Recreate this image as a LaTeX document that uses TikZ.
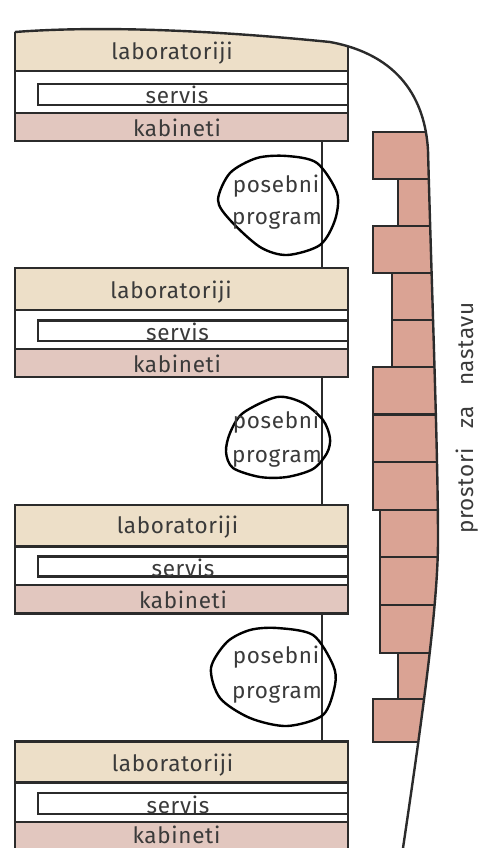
\documentclass[tikz,border=0pt]{standalone}
\usepackage{fontspec}
\setmainfont{Fira Sans}[LetterSpace=3, WordSpace=3]
\usetikzlibrary{calc}
\definecolor{labfill}{HTML}{EDDFC8}
\definecolor{kabfill}{HTML}{E2C7BF}
\definecolor{brickfill}{HTML}{DAA394}
\definecolor{ink}{HTML}{2B2B2B}
\definecolor{txt}{HTML}{3A3A3A}
\def\outerline{(15,32) .. controls (120,24) and (250,34) .. (330,42) .. controls (400,55) and (425,100) .. (428,150) .. controls (432,300) and (438,450) .. (438,540) .. controls (438,600) and (425,700) .. (403,848)}
\tikzset{
	wall/.style={draw=ink, line width=2.4pt},
	roomtxt/.style={text=txt, font=\fontsize{22.5}{26}\selectfont, anchor=base, inner sep=0pt},
	blob/.style={draw=black, line width=2.4pt}
}

\begin{document}
\begin{tikzpicture}[x=1pt,y=-1pt]
				\useasboundingbox (0,0) rectangle (483,848);
				
				\begin{scope}
				\clip (0,32) -- \outerline -- (403,860) -- (0,860) -- cycle;
				
				% blok 1
				\draw[wall, fill=labfill] (15,20) rectangle (348,71);
				\draw[wall] (15,71) rectangle (348,113);
				\draw[wall, fill=white] (38,84) rectangle (348,105);
				\draw[wall, fill=kabfill] (15,113) rectangle (348,141);
				
				% blok 2
				\draw[wall, fill=labfill] (15,268) rectangle (348,310);
				\draw[wall] (15,310) rectangle (348,349);
				\draw[wall, fill=white] (38,320.5) rectangle (348,341);
				\draw[wall, fill=kabfill] (15,349) rectangle (348,377);
				
				% blok 3
				\draw[wall, fill=labfill] (15,505) rectangle (348,546.5);
				\draw[wall] (15,546.5) rectangle (348,585);
				\draw[wall, fill=white] (38,556.5) rectangle (348,576.5);
				\draw[wall, fill=kabfill] (15,585) rectangle (348,613.5);
				
				% blok 4
				\draw[wall, fill=labfill] (15,741.5) rectangle (348,782.5);
				\draw[wall] (15,782.5) rectangle (348,822);
				\draw[wall, fill=white] (38,793) rectangle (348,814);
				\draw[wall, fill=kabfill] (15,822) rectangle (348,852);
				
				% prostori za nastavu
				\draw[wall, fill=brickfill] (373,132) rectangle (470,179);
				\draw[wall, fill=brickfill] (398,179) rectangle (470,226);
				\draw[wall, fill=brickfill] (373,226) rectangle (470,273);
				\draw[wall, fill=brickfill] (392,273) rectangle (470,320);
				\draw[wall, fill=brickfill] (392,320) rectangle (470,367);
				\draw[wall, fill=brickfill] (373,367) rectangle (470,414.5);
				\draw[wall, fill=brickfill] (373,414.5) rectangle (470,462);
				\draw[wall, fill=brickfill] (373,462) rectangle (470,510);
				\draw[wall, fill=brickfill] (380,510) rectangle (470,557);
				\draw[wall, fill=brickfill] (380,557) rectangle (470,605);
				\draw[wall, fill=brickfill] (380,605) rectangle (470,653);
				\draw[wall, fill=brickfill] (398,653) rectangle (470,699);
				\draw[wall, fill=brickfill] (373,699) rectangle (470,742);
				\end{scope}
				
				\draw[wall] \outerline;
				
				% hodnik
				\coordinate (k1) at (322,141);
				\coordinate (l2) at (322,268);
				\coordinate (k2) at (322,377);
				\coordinate (l3) at (322,505);
				\coordinate (k3) at (322,613.5);
				\coordinate (l4) at (322,741.5);
				\draw[wall] (k1) -- (l2);
				\draw[wall] (k2) -- (l3);
				\draw[wall] (k3) -- (l4);
				
				\node[roomtxt] (lab1) at (172,60) {laboratoriji};
				\node[roomtxt] (serv1) at (177,104) {servis};
				\node[roomtxt] (kab1) at (177,136) {kabineti};
				\node[roomtxt] (lab2) at (171,298) {laboratoriji};
				\node[roomtxt] (serv2) at (177.5,340) {servis};
				\node[roomtxt] (kab2) at (177,372) {kabineti};
				\node[roomtxt] (lab3) at (177.5,533.5) {laboratoriji};
				\node[roomtxt] (serv3) at (183,576) {servis};
				\node[roomtxt] (kab3) at (183,608) {kabineti};
				\node[roomtxt] (lab4) at (172.5,771.5) {laboratoriji};
				\node[roomtxt] (serv4) at (178,813) {servis};
				\node[roomtxt] (kab4) at (176.5,843) {kabineti};
				
				% posebni program
				\draw[blob] plot[smooth cycle] coordinates {(287,156) (317,163) (337,193) (335,220) (320,245) (287,255) (260,247) (230,220) (218,200) (230,173) (257,158)};
				\node[roomtxt] (pos1) at (276,192) {posebni};
				\node[roomtxt] (prog1) at (277,224) {program};
				
				\draw[blob] plot[smooth cycle] coordinates {(277,397) (243,413) (230,433) (226,452) (233,468) (260,477) (287,477) (313,469) (327,453) (330,438) (323,420) (303,403)};
				\node[roomtxt] (pos2) at (276,428) {posebni};
				\node[roomtxt] (prog2) at (277,462) {program};
				
				\draw[blob] plot[smooth cycle] coordinates {(277,628) (313,635) (333,665) (335,685) (323,715) (287,726) (250,718) (220,698) (211,668) (227,642) (250,630)};
				\node[roomtxt] (pos3) at (276,663) {posebni};
				\node[roomtxt] (prog3) at (277,698) {program};
				
				\node[roomtxt, rotate=90] (nastava) at (473,418) {prostori za nastavu};
			\end{tikzpicture}
\end{document}
